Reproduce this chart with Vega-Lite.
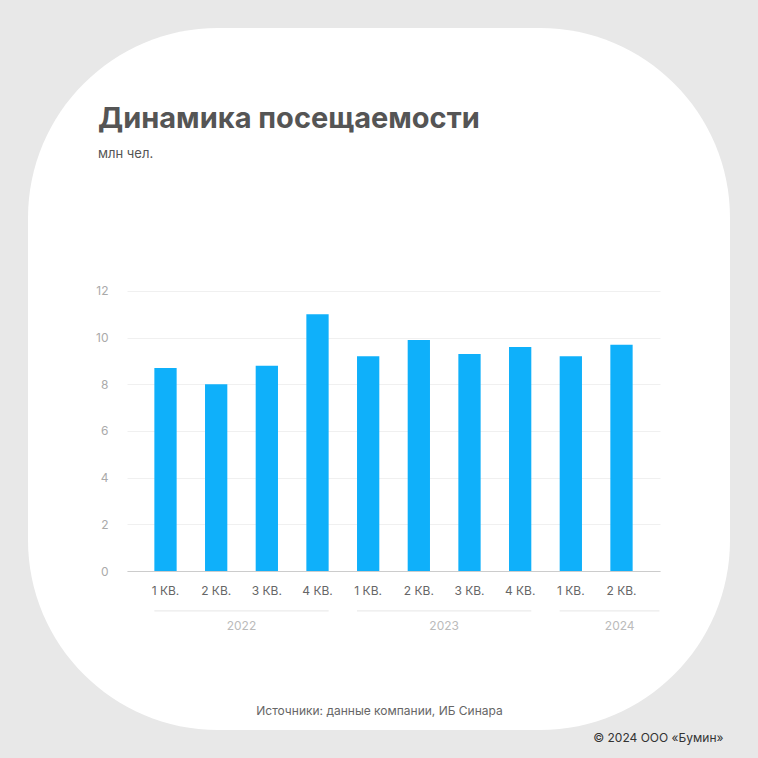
{
  "$schema": "https://vega.github.io/schema/vega-lite/v6.json",
  "width": 702,
  "height": 702,
  "padding": 28,
  "autosize": "none",
  "background": "#e8e8e8",
  "config": {
    "font": "Inter",
    "view": {"fill": "#ffffff", "stroke": null, "cornerRadius": 190}
  },
  "title": {
    "text": "Динамика посещаемости",
    "subtitle": "млн чел.",
    "anchor": "start",
    "frame": "group",
    "orient": "top",
    "offset": -133,
    "dx": 70,
    "fontSize": 29,
    "fontWeight": 700,
    "color": "#555555",
    "subtitleFontSize": 13,
    "subtitleColor": "#555555",
    "subtitlePadding": 14
  },
  "datasets": {
    "quarters": [
      {"q": "1 КВ.|2022", "v": 8.7},
      {"q": "2 КВ.|2022", "v": 8.0},
      {"q": "3 КВ.|2022", "v": 8.8},
      {"q": "4 КВ.|2022", "v": 11.0},
      {"q": "1 КВ.|2023", "v": 9.2},
      {"q": "2 КВ.|2023", "v": 9.9},
      {"q": "3 КВ.|2023", "v": 9.3},
      {"q": "4 КВ.|2023", "v": 9.6},
      {"q": "1 КВ.|2024", "v": 9.2},
      {"q": "2 КВ.|2024", "v": 9.7}
    ],
    "years": [
      {"year": "2022", "s": "1 КВ.|2022", "e": "4 КВ.|2022", "m": "2 КВ.|2022"},
      {"year": "2023", "s": "1 КВ.|2023", "e": "4 КВ.|2023", "m": "2 КВ.|2023"},
      {"year": "2024", "s": "1 КВ.|2024", "e": "2 КВ.|2024", "m": "2 КВ.|2024"}
    ]
  },
  "layer": [
    {
      "data": {"name": "quarters"},
      "mark": {"type": "bar", "color": "#0fb0fa"},
      "encoding": {
        "x": {
          "field": "q",
          "type": "nominal",
          "sort": null,
          "scale": {
            "type": "band",
            "domain": ["1 КВ.|2022", "2 КВ.|2022", "3 КВ.|2022", "4 КВ.|2022", "1 КВ.|2023", "2 КВ.|2023", "3 КВ.|2023", "4 КВ.|2023", "1 КВ.|2024", "2 КВ.|2024"],
            "range": [99, 632],
            "paddingInner": 0.56,
            "paddingOuter": 0.54
          },
          "axis": {
            "offset": -159,
            "domainColor": "#cccccc",
            "ticks": false,
            "grid": false,
            "labelPadding": 14,
            "labelAngle": 0,
            "labelColor": "#666666",
            "labelFontSize": 12,
            "labelExpr": "split(datum.label, '|')[0]",
            "title": "Источники: данные компании, ИБ Синара",
            "titleX": 351,
            "titleY": 139,
            "titleAlign": "center",
            "titleBaseline": "middle",
            "titleColor": "#666666",
            "titleFontSize": 12,
            "titleFontWeight": "normal"
          }
        },
        "y": {
          "field": "v",
          "type": "quantitative",
          "scale": {"domain": [-6.814, 23.271], "nice": false, "zero": false},
          "axis": {
            "values": [0, 2, 4, 6, 8, 10, 12],
            "offset": -80,
            "domain": false,
            "ticks": false,
            "labelPadding": 0,
            "labelColor": "#aaaaaa",
            "labelFontSize": 12,
            "gridColor": "#f0f0f0",
            "title": "© 2024 ООО «Бумин»",
            "titleAngle": 0,
            "titleX": 615,
            "titleY": 709,
            "titleAlign": "right",
            "titleBaseline": "middle",
            "titleColor": "#333333",
            "titleFontSize": 12,
            "titleFontWeight": "normal"
          }
        },
        "y2": {"datum": 0}
      }
    },
    {
      "data": {"name": "years"},
      "transform": [{"filter": "datum.year != '2024'"}],
      "mark": {"type": "rule", "color": "#e6e6e6", "strokeWidth": 1},
      "encoding": {
        "x": {"field": "s", "type": "nominal", "bandPosition": 0},
        "x2": {"field": "e", "bandPosition": 1},
        "y": {"datum": -1.71}
      }
    },
    {
      "data": {"name": "years"},
      "transform": [{"filter": "datum.year == '2024'"}],
      "mark": {"type": "rule", "color": "#e6e6e6", "strokeWidth": 1},
      "encoding": {
        "x": {"field": "s", "type": "nominal", "bandPosition": 0},
        "x2": {"field": "e", "bandPosition": 2.2},
        "y": {"datum": -1.71}
      }
    },
    {
      "data": {"name": "years"},
      "transform": [{"filter": "datum.year != '2024'"}],
      "mark": {"type": "text", "color": "#bbbbbb", "fontSize": 12, "baseline": "middle", "align": "center"},
      "encoding": {
        "x": {"field": "m", "type": "nominal", "bandPosition": 1.636},
        "y": {"datum": -2.36},
        "text": {"field": "year"}
      }
    },
    {
      "data": {"name": "years"},
      "transform": [{"filter": "datum.year == '2024'"}],
      "mark": {"type": "text", "color": "#bbbbbb", "fontSize": 12, "baseline": "middle", "align": "center"},
      "encoding": {
        "x": {"field": "m", "type": "nominal", "bandPosition": 0.42},
        "y": {"datum": -2.36},
        "text": {"field": "year"}
      }
    }
  ]
}
